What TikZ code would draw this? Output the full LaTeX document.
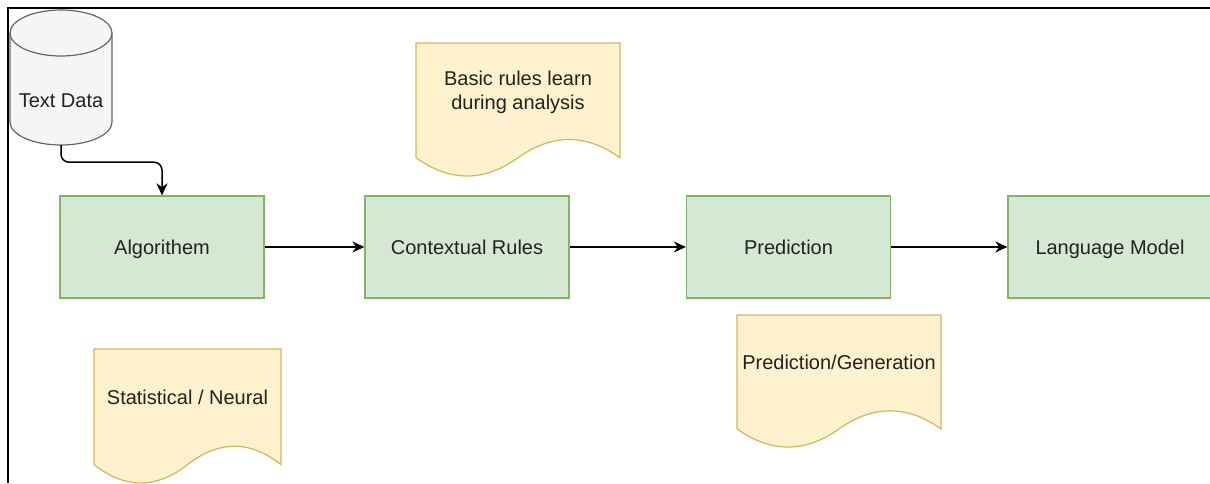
\documentclass[tikz,border=0pt]{standalone}
\usepackage{fontspec}
\setmainfont{Liberation Sans}
\usetikzlibrary{arrows.meta}

\definecolor{boxfill}{HTML}{D5E8D4}
\definecolor{boxline}{HTML}{82B366}
\definecolor{notefill}{HTML}{FFF2CC}
\definecolor{noteline}{HTML}{D6B656}
\definecolor{dbfill}{HTML}{F5F5F5}
\definecolor{dbline}{HTML}{666666}
\definecolor{ink}{HTML}{222222}

% document-shaped note with a wavy lower edge: x, y (from top), width, height
\newcommand{\notesheet}[4]{%
  \pgfmathsetmacro{\nxa}{#1}%
  \pgfmathsetmacro{\nxb}{#1+#3}%
  \pgfmathsetmacro{\nxm}{#1+#3/2}%
  \pgfmathsetmacro{\nxf}{#1+5*#3/6}%
  \pgfmathsetmacro{\nxe}{#1+2*#3/3}%
  \pgfmathsetmacro{\nxc}{#1+#3/3}%
  \pgfmathsetmacro{\nxs}{#1+#3/6}%
  \pgfmathsetmacro{\nya}{-(#2)}%
  \pgfmathsetmacro{\nyb}{-(#2+0.85*#4)}%
  \pgfmathsetmacro{\nyc}{-(#2+0.67*#4)}%
  \pgfmathsetmacro{\nyd}{-(#2+1.03*#4)}%
  \filldraw[notesheet] (\nxa,\nya) -- (\nxb,\nya) -- (\nxb,\nyb)
    .. controls (\nxf,\nyc) and (\nxe,\nyc) .. (\nxm,\nyb)
    .. controls (\nxc,\nyd) and (\nxs,\nyd) .. (\nxa,\nyb) -- cycle;%
}

\tikzset{
  label text/.style={text=ink, font=\fontsize{20}{24}\selectfont,
    text height=15.5pt, text depth=1.5pt},
  stage/.style={draw=boxline, fill=boxfill, line width=1.3pt,
    minimum width=204pt, minimum height=102pt, inner sep=0pt, label text},
  notesheet/.style={draw=noteline, fill=notefill, line width=1.2pt},
  notetext/.style={text=ink, font=\fontsize{20}{24}\selectfont, align=center, inner sep=0pt},
  flow/.style={draw=black, line width=1.5pt, -{Stealth[length=12pt,width=11pt]}},
}

\begin{document}
\begin{tikzpicture}[x=1pt,y=1pt]
  \clip (0,0) rectangle (1210,-483);
  \fill[white] (0,0) rectangle (1210,-483);

  % frame
  \draw[black, line width=2.5pt] (8,-483) -- (8,-8) -- (1210,-8);

  % data store cylinder
  \filldraw[fill=dbfill, draw=dbline, line width=1.2pt]
    (10,-33) -- (10,-122) arc[start angle=180, end angle=360, x radius=51pt, y radius=23pt]
    -- (112,-33) arc[start angle=0, end angle=180, x radius=51pt, y radius=23pt] -- cycle;
  \draw[dbline, line width=1.2pt]
    (10,-33) arc[start angle=180, end angle=360, x radius=51pt, y radius=23pt];
  \node[minimum width=102pt, minimum height=135pt, inner sep=0pt] (cyl) at (61,-77.5) {};
  \node[label text, inner sep=0pt] (cyltext) at (61,-100) {Text Data};

  % pipeline stages
  \node[stage] (alg) at (162,-247) {Algorithem};
  \node[stage] (ctx) at (467,-247) {Contextual Rules};
  \node[stage] (pred) at (788.5,-247) {Prediction};
  \node[stage] (lm) at (1110,-247) {Language Model};

  % connectors
  \draw[flow, rounded corners=8pt] (cyl.south) -- ++(0,-17) -| (alg.north);
  \draw[flow] (alg) -- (ctx);
  \draw[flow] (ctx) -- (pred);
  \draw[flow] (pred) -- (lm);

  % notes
  \notesheet{416}{43}{204}{135}
  \node[notetext] (basic) at (518,-92) {Basic rules learn\\during analysis};
  \notesheet{94}{349}{187}{136}
  \node[notetext, label text] (stat) at (187.5,-397) {Statistical / Neural};
  \notesheet{737}{315}{204}{134}
  \node[notetext, label text] (gen) at (839,-362) {Prediction/Generation};
\end{tikzpicture}
\end{document}
